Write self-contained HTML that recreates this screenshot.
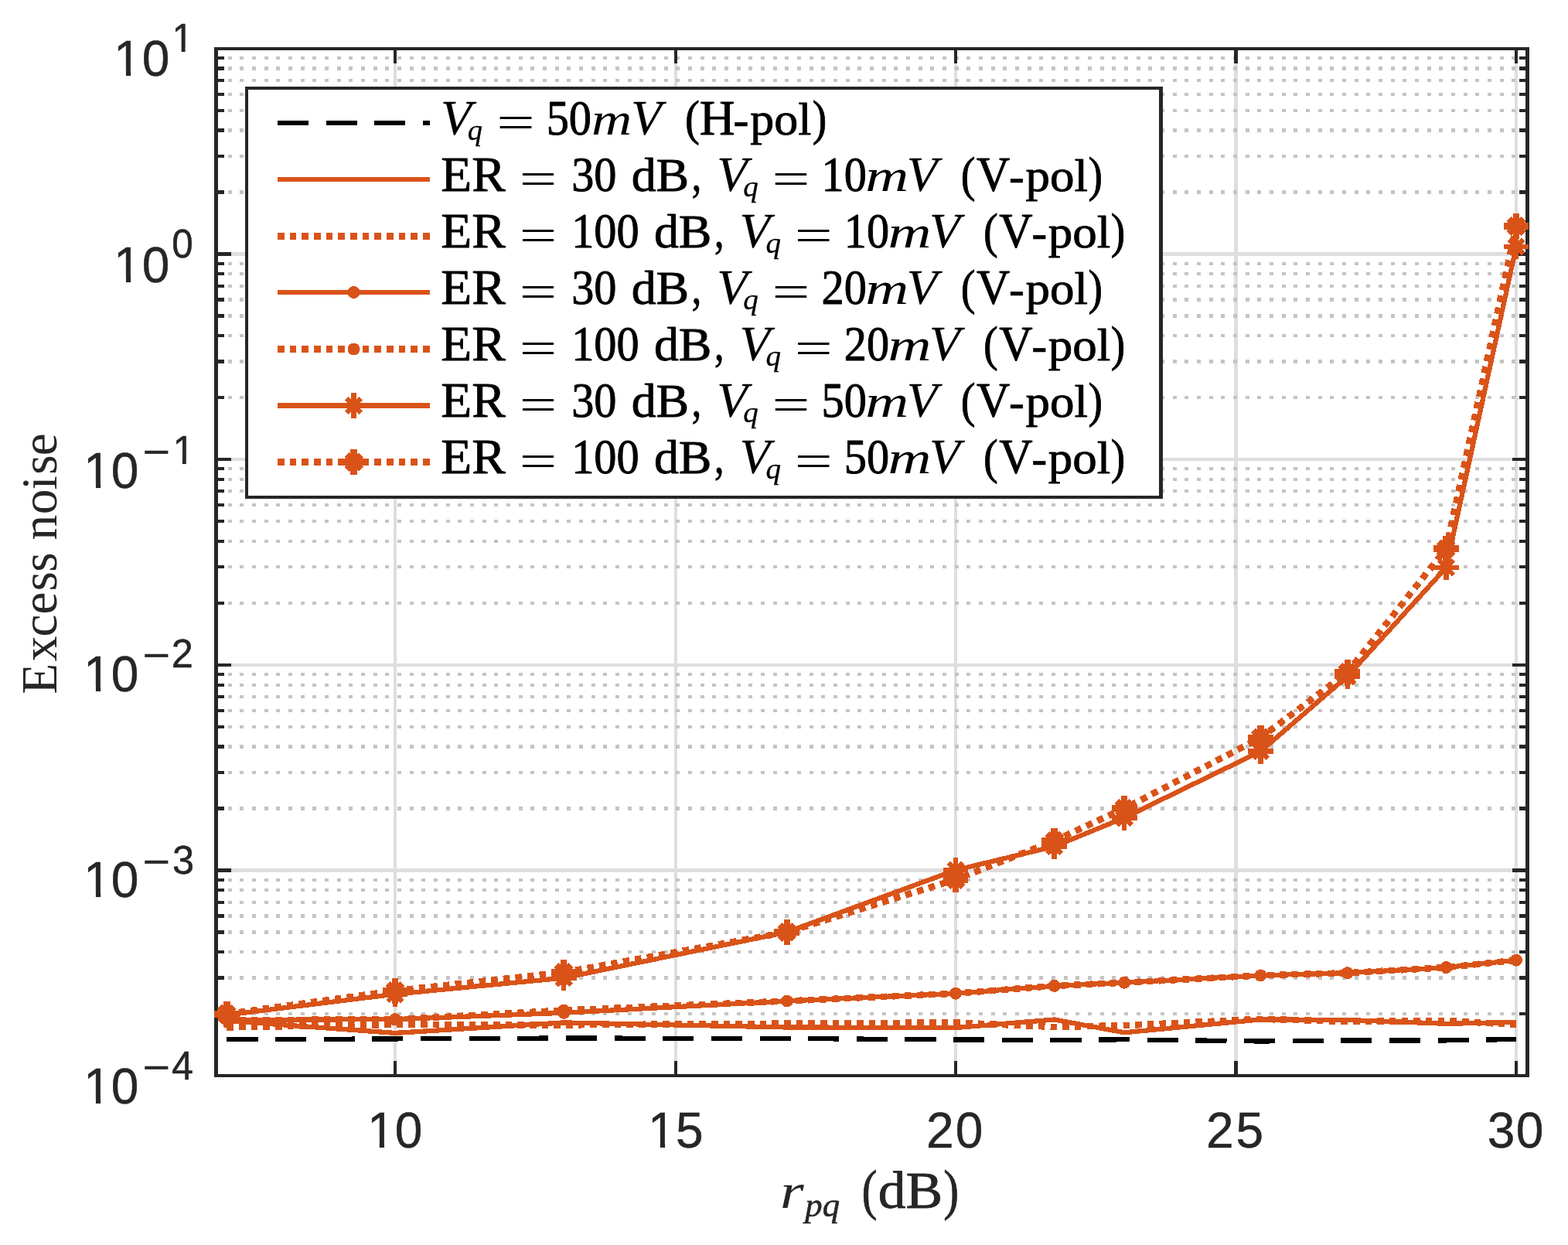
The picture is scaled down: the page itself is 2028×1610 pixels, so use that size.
<!DOCTYPE html>
<html lang="en"><head><meta charset="utf-8"><title>Excess noise vs r_pq</title>
<style>html,body{margin:0;padding:0;background:#fff;}body{width:2028px;height:1610px;overflow:hidden;}svg{display:block;}text{white-space:pre;}</style></head>
<body>
<svg width="2028" height="1610" viewBox="0 0 2028 1610"><defs><clipPath id="c1"><rect x="472.99" y="-64" width="39.59" height="57.62"/><rect x="490.84" y="-6.98" width="6.16" height="7.23"/><rect x="508.75" y="-64" width="39.59" height="89.6"/></clipPath><clipPath id="c2"><rect x="836.09" y="-64" width="39.59" height="57.62"/><rect x="853.94" y="-6.98" width="6.16" height="7.23"/><rect x="871.89" y="-64" width="39.59" height="89.6"/></clipPath><clipPath id="c3"><rect x="145.09" y="-64" width="39.59" height="57.62"/><rect x="162.94" y="-6.98" width="6.16" height="7.23"/><rect x="181.75" y="-64" width="39.59" height="89.6"/></clipPath><clipPath id="c4"><rect x="229.76" y="-51.5" width="32.64" height="46.05"/><rect x="244.47" y="-6.05" width="5.05" height="6.3"/></clipPath><clipPath id="c5"><rect x="145.09" y="-64" width="39.59" height="57.62"/><rect x="162.94" y="-6.98" width="6.16" height="7.23"/><rect x="181.75" y="-64" width="39.59" height="89.6"/></clipPath><clipPath id="c6"><rect x="106.09" y="-64" width="39.59" height="57.62"/><rect x="123.94" y="-6.98" width="6.16" height="7.23"/><rect x="141.75" y="-64" width="39.59" height="89.6"/></clipPath><clipPath id="c7"><rect x="225.95" y="-51.5" width="32.64" height="46.05"/><rect x="240.65" y="-6.05" width="5.05" height="6.3"/></clipPath><clipPath id="c8"><rect x="106.09" y="-64" width="39.59" height="57.62"/><rect x="123.94" y="-6.98" width="6.16" height="7.23"/><rect x="141.75" y="-64" width="39.59" height="89.6"/></clipPath><clipPath id="c9"><rect x="106.09" y="-64" width="39.59" height="57.62"/><rect x="123.94" y="-6.98" width="6.16" height="7.23"/><rect x="141.75" y="-64" width="39.59" height="89.6"/></clipPath><clipPath id="c10"><rect x="106.09" y="-64" width="39.59" height="57.62"/><rect x="123.94" y="-6.98" width="6.16" height="7.23"/><rect x="141.75" y="-64" width="39.59" height="89.6"/></clipPath></defs><rect x="0" y="0" width="2028" height="1610" fill="#fff"/>
<g shape-rendering="crispEdges">
<g fill="#DEDEDE">
<rect x="509" y="63" width="4" height="1328"/>
<rect x="872" y="63" width="4" height="1328"/>
<rect x="1234" y="63" width="4" height="1328"/>
<rect x="1596" y="63" width="5" height="1328"/>
<rect x="1959" y="63" width="4" height="1328"/>
<rect x="279.5" y="1123" width="1696" height="5"/>
<rect x="279.5" y="858" width="1696" height="4"/>
<rect x="279.5" y="592" width="1696" height="4"/>
<rect x="279.5" y="326" width="1696" height="5"/>
</g>
<g stroke="#C4C4C4" stroke-dasharray="4.92 10.7467" fill="none">
<path d="M279 1311H1975.5" stroke-width="4"/>
<path d="M279 1264.5H1975.5" stroke-width="5"/>
<path d="M279 1231H1975.5" stroke-width="4"/>
<path d="M279 1205.5H1975.5" stroke-width="5"/>
<path d="M279 1184.5H1975.5" stroke-width="5"/>
<path d="M279 1167H1975.5" stroke-width="4"/>
<path d="M279 1151H1975.5" stroke-width="4"/>
<path d="M279 1138H1975.5" stroke-width="4"/>
<path d="M279 1045.5H1975.5" stroke-width="5"/>
<path d="M279 999H1975.5" stroke-width="4"/>
<path d="M279 965.5H1975.5" stroke-width="5"/>
<path d="M279 940H1975.5" stroke-width="4"/>
<path d="M279 919H1975.5" stroke-width="4"/>
<path d="M279 901H1975.5" stroke-width="4"/>
<path d="M279 886H1975.5" stroke-width="4"/>
<path d="M279 872H1975.5" stroke-width="4"/>
<path d="M279 780H1975.5" stroke-width="4"/>
<path d="M279 733H1975.5" stroke-width="4"/>
<path d="M279 700H1975.5" stroke-width="4"/>
<path d="M279 674H1975.5" stroke-width="4"/>
<path d="M279 653H1975.5" stroke-width="4"/>
<path d="M279 635H1975.5" stroke-width="4"/>
<path d="M279 620H1975.5" stroke-width="4"/>
<path d="M279 606H1975.5" stroke-width="4"/>
<path d="M279 514H1975.5" stroke-width="4"/>
<path d="M279 467.5H1975.5" stroke-width="5"/>
<path d="M279 434H1975.5" stroke-width="4"/>
<path d="M279 408.5H1975.5" stroke-width="5"/>
<path d="M279 387.5H1975.5" stroke-width="5"/>
<path d="M279 370H1975.5" stroke-width="4"/>
<path d="M279 354H1975.5" stroke-width="4"/>
<path d="M279 341H1975.5" stroke-width="4"/>
<path d="M279 248.5H1975.5" stroke-width="5"/>
<path d="M279 202H1975.5" stroke-width="4"/>
<path d="M279 168.5H1975.5" stroke-width="5"/>
<path d="M279 143H1975.5" stroke-width="4"/>
<path d="M279 122H1975.5" stroke-width="4"/>
<path d="M279 104H1975.5" stroke-width="4"/>
<path d="M279 88.5H1975.5" stroke-width="5"/>
<path d="M279 75H1975.5" stroke-width="4"/>
</g>
</g>
<g shape-rendering="crispEdges" fill="#262626">
<rect x="277" y="61" width="5" height="1332"/>
<rect x="1973" y="61" width="5" height="1332"/>
<rect x="277" y="61" width="1701" height="4"/>
<rect x="277" y="1389" width="1701" height="4"/>
<rect x="509" y="1372" width="4" height="19"/>
<rect x="509" y="63" width="4" height="19"/>
<rect x="872" y="1372" width="4" height="19"/>
<rect x="872" y="63" width="4" height="19"/>
<rect x="1234" y="1372" width="4" height="19"/>
<rect x="1234" y="63" width="4" height="19"/>
<rect x="1596" y="1372" width="5" height="19"/>
<rect x="1596" y="63" width="5" height="19"/>
<rect x="1959" y="1372" width="4" height="19"/>
<rect x="1959" y="63" width="4" height="19"/>
<rect x="279" y="1123" width="20" height="5"/>
<rect x="1956" y="1123" width="20" height="5"/>
<rect x="279" y="858" width="20" height="4"/>
<rect x="1956" y="858" width="20" height="4"/>
<rect x="279" y="592" width="20" height="4"/>
<rect x="1956" y="592" width="20" height="4"/>
<rect x="279" y="326" width="20" height="5"/>
<rect x="1956" y="326" width="20" height="5"/>
<rect x="279" y="1309" width="11" height="4"/>
<rect x="1965" y="1309" width="11" height="4"/>
<rect x="279" y="1262" width="11" height="5"/>
<rect x="1965" y="1262" width="11" height="5"/>
<rect x="279" y="1229" width="11" height="4"/>
<rect x="1965" y="1229" width="11" height="4"/>
<rect x="279" y="1203" width="11" height="5"/>
<rect x="1965" y="1203" width="11" height="5"/>
<rect x="279" y="1182" width="11" height="5"/>
<rect x="1965" y="1182" width="11" height="5"/>
<rect x="279" y="1165" width="11" height="4"/>
<rect x="1965" y="1165" width="11" height="4"/>
<rect x="279" y="1149" width="11" height="4"/>
<rect x="1965" y="1149" width="11" height="4"/>
<rect x="279" y="1136" width="11" height="4"/>
<rect x="1965" y="1136" width="11" height="4"/>
<rect x="279" y="1043" width="11" height="5"/>
<rect x="1965" y="1043" width="11" height="5"/>
<rect x="279" y="997" width="11" height="4"/>
<rect x="1965" y="997" width="11" height="4"/>
<rect x="279" y="963" width="11" height="5"/>
<rect x="1965" y="963" width="11" height="5"/>
<rect x="279" y="938" width="11" height="4"/>
<rect x="1965" y="938" width="11" height="4"/>
<rect x="279" y="917" width="11" height="4"/>
<rect x="1965" y="917" width="11" height="4"/>
<rect x="279" y="899" width="11" height="4"/>
<rect x="1965" y="899" width="11" height="4"/>
<rect x="279" y="884" width="11" height="4"/>
<rect x="1965" y="884" width="11" height="4"/>
<rect x="279" y="870" width="11" height="4"/>
<rect x="1965" y="870" width="11" height="4"/>
<rect x="279" y="778" width="11" height="4"/>
<rect x="1965" y="778" width="11" height="4"/>
<rect x="279" y="731" width="11" height="4"/>
<rect x="1965" y="731" width="11" height="4"/>
<rect x="279" y="698" width="11" height="4"/>
<rect x="1965" y="698" width="11" height="4"/>
<rect x="279" y="672" width="11" height="4"/>
<rect x="1965" y="672" width="11" height="4"/>
<rect x="279" y="651" width="11" height="4"/>
<rect x="1965" y="651" width="11" height="4"/>
<rect x="279" y="633" width="11" height="4"/>
<rect x="1965" y="633" width="11" height="4"/>
<rect x="279" y="618" width="11" height="4"/>
<rect x="1965" y="618" width="11" height="4"/>
<rect x="279" y="604" width="11" height="4"/>
<rect x="1965" y="604" width="11" height="4"/>
<rect x="279" y="512" width="11" height="4"/>
<rect x="1965" y="512" width="11" height="4"/>
<rect x="279" y="465" width="11" height="5"/>
<rect x="1965" y="465" width="11" height="5"/>
<rect x="279" y="432" width="11" height="4"/>
<rect x="1965" y="432" width="11" height="4"/>
<rect x="279" y="406" width="11" height="5"/>
<rect x="1965" y="406" width="11" height="5"/>
<rect x="279" y="385" width="11" height="5"/>
<rect x="1965" y="385" width="11" height="5"/>
<rect x="279" y="368" width="11" height="4"/>
<rect x="1965" y="368" width="11" height="4"/>
<rect x="279" y="352" width="11" height="4"/>
<rect x="1965" y="352" width="11" height="4"/>
<rect x="279" y="339" width="11" height="4"/>
<rect x="1965" y="339" width="11" height="4"/>
<rect x="279" y="246" width="11" height="5"/>
<rect x="1965" y="246" width="11" height="5"/>
<rect x="279" y="200" width="11" height="4"/>
<rect x="1965" y="200" width="11" height="4"/>
<rect x="279" y="166" width="11" height="5"/>
<rect x="1965" y="166" width="11" height="5"/>
<rect x="279" y="141" width="11" height="4"/>
<rect x="1965" y="141" width="11" height="4"/>
<rect x="279" y="120" width="11" height="4"/>
<rect x="1965" y="120" width="11" height="4"/>
<rect x="279" y="102" width="11" height="4"/>
<rect x="1965" y="102" width="11" height="4"/>
<rect x="279" y="86" width="11" height="5"/>
<rect x="1965" y="86" width="11" height="5"/>
<rect x="279" y="73" width="11" height="4"/>
<rect x="1965" y="73" width="11" height="4"/>
</g>
<g shape-rendering="crispEdges" fill="none" stroke-linejoin="round">
<path d="M293.4 1344.3L511 1343.4L729.23 1342.5L1017.77 1343L1236 1344.4L1363.6 1345L1454.23 1344.3L1630.4 1346.5L1742.77 1345.4L1870.38 1345.4L1961 1344" stroke="#000" stroke-width="6.25" stroke-dasharray="40.15 22.5"/>
<g stroke="#D95319">
<path d="M293.4 1320L511 1335.9L729.23 1322.4L1017.77 1328.5L1236 1329L1363.6 1318.5L1454.23 1335.3L1630.4 1318.4L1742.77 1319L1870.38 1323.8L1961 1322" stroke-width="6.25"/>
<path d="M293.4 1328.5L511 1325L729.23 1325.4L1017.77 1323.6L1236 1322.4L1363.6 1328L1454.23 1326.1L1630.4 1317.8L1742.77 1321L1870.38 1320L1961 1325" stroke-width="8.5" stroke-dasharray="8.5 7.167"/>
<path d="M293.4 1319L511 1318.1L729.23 1309.8L1017.77 1294.5L1236 1284.7L1363.6 1274.9L1454.23 1270.7L1630.4 1261.4L1742.77 1258.2L1870.38 1251.1L1961 1241.7" stroke-width="6.25"/>
<circle cx="293.4" cy="1319" r="8" fill="#D95319" stroke="none"/>
<circle cx="511" cy="1318.1" r="8" fill="#D95319" stroke="none"/>
<circle cx="729.23" cy="1309.8" r="8" fill="#D95319" stroke="none"/>
<circle cx="1017.77" cy="1294.5" r="8" fill="#D95319" stroke="none"/>
<circle cx="1236" cy="1284.7" r="8" fill="#D95319" stroke="none"/>
<circle cx="1363.6" cy="1274.9" r="8" fill="#D95319" stroke="none"/>
<circle cx="1454.23" cy="1270.7" r="8" fill="#D95319" stroke="none"/>
<circle cx="1630.4" cy="1261.4" r="8" fill="#D95319" stroke="none"/>
<circle cx="1742.77" cy="1258.2" r="8" fill="#D95319" stroke="none"/>
<circle cx="1870.38" cy="1251.1" r="8" fill="#D95319" stroke="none"/>
<circle cx="1961" cy="1241.7" r="8" fill="#D95319" stroke="none"/>
<path d="M293.4 1319L511 1318.5L729.23 1306.5L1017.77 1294.5L1236 1284.7L1363.6 1274.9L1454.23 1270.7L1630.4 1261.4L1742.77 1258.2L1870.38 1251.1L1961 1241.7" stroke-width="8.5" stroke-dasharray="8.5 7.167"/>
<circle cx="293.4" cy="1319" r="8" fill="#D95319" stroke="none"/>
<circle cx="511" cy="1318.5" r="8" fill="#D95319" stroke="none"/>
<circle cx="729.23" cy="1306.5" r="8" fill="#D95319" stroke="none"/>
<circle cx="1017.77" cy="1294.5" r="8" fill="#D95319" stroke="none"/>
<circle cx="1236" cy="1284.7" r="8" fill="#D95319" stroke="none"/>
<circle cx="1363.6" cy="1274.9" r="8" fill="#D95319" stroke="none"/>
<circle cx="1454.23" cy="1270.7" r="8" fill="#D95319" stroke="none"/>
<circle cx="1630.4" cy="1261.4" r="8" fill="#D95319" stroke="none"/>
<circle cx="1742.77" cy="1258.2" r="8" fill="#D95319" stroke="none"/>
<circle cx="1870.38" cy="1251.1" r="8" fill="#D95319" stroke="none"/>
<circle cx="1961" cy="1241.7" r="8" fill="#D95319" stroke="none"/>
<path d="M293.4 1312.5L511 1285.6L729.23 1264.6L1017.77 1205.4L1236 1125.2L1363.6 1094.6L1454.23 1057.5L1630.4 971.6L1742.77 874.5L1870.38 733.9L1961 318.9" stroke-width="6.25"/>
<path d="M277.1 1312.5H309.7M293.4 1296.2V1328.8M284 1303.1L302.8 1321.9M284 1321.9L302.8 1303.1" stroke-width="6.25"/>
<path d="M494.7 1285.6H527.3M511 1269.3V1301.9M501.6 1276.2L520.4 1295M501.6 1295L520.4 1276.2" stroke-width="6.25"/>
<path d="M712.93 1264.6H745.52M729.23 1248.3V1280.9M719.83 1255.2L738.62 1274M719.83 1274L738.62 1255.2" stroke-width="6.25"/>
<path d="M1001.47 1205.4H1034.07M1017.77 1189.1V1221.7M1008.37 1196L1027.17 1214.8M1008.37 1214.8L1027.17 1196" stroke-width="6.25"/>
<path d="M1219.7 1125.2H1252.3M1236 1108.9V1141.5M1226.6 1115.8L1245.4 1134.6M1226.6 1134.6L1245.4 1115.8" stroke-width="6.25"/>
<path d="M1347.3 1094.6H1379.9M1363.6 1078.3V1110.9M1354.2 1085.2L1373 1104M1354.2 1104L1373 1085.2" stroke-width="6.25"/>
<path d="M1437.93 1057.5H1470.53M1454.23 1041.2V1073.8M1444.83 1048.1L1463.63 1066.9M1444.83 1066.9L1463.63 1048.1" stroke-width="6.25"/>
<path d="M1614.1 971.6H1646.7M1630.4 955.3V987.9M1621 962.2L1639.8 981M1621 981L1639.8 962.2" stroke-width="6.25"/>
<path d="M1726.47 874.5H1759.07M1742.77 858.2V890.8M1733.37 865.1L1752.17 883.9M1733.37 883.9L1752.17 865.1" stroke-width="6.25"/>
<path d="M1854.08 733.9H1886.67M1870.38 717.6V750.2M1860.97 724.5L1879.78 743.3M1860.97 743.3L1879.78 724.5" stroke-width="6.25"/>
<path d="M1944.7 318.9H1977.3M1961 302.6V335.2M1951.6 309.5L1970.4 328.3M1951.6 328.3L1970.4 309.5" stroke-width="6.25"/>
<path d="M293.4 1311.3L511 1281.2L729.23 1257.4L1017.77 1205.4L1236 1137.4L1363.6 1087.4L1454.23 1045.4L1630.4 954.2L1742.77 869.4L1870.38 709.6L1961 292.6" stroke-width="8.5" stroke-dasharray="8.5 7.167"/>
<path d="M277.1 1311.3H309.7M293.4 1295V1327.6M284 1301.9L302.8 1320.7M284 1320.7L302.8 1301.9" stroke-width="8.5"/>
<path d="M494.7 1281.2H527.3M511 1264.9V1297.5M501.6 1271.8L520.4 1290.6M501.6 1290.6L520.4 1271.8" stroke-width="8.5"/>
<path d="M712.93 1257.4H745.52M729.23 1241.1V1273.7M719.83 1248L738.62 1266.8M719.83 1266.8L738.62 1248" stroke-width="8.5"/>
<path d="M1001.47 1205.4H1034.07M1017.77 1189.1V1221.7M1008.37 1196L1027.17 1214.8M1008.37 1214.8L1027.17 1196" stroke-width="8.5"/>
<path d="M1219.7 1137.4H1252.3M1236 1121.1V1153.7M1226.6 1128L1245.4 1146.8M1226.6 1146.8L1245.4 1128" stroke-width="8.5"/>
<path d="M1347.3 1087.4H1379.9M1363.6 1071.1V1103.7M1354.2 1078L1373 1096.8M1354.2 1096.8L1373 1078" stroke-width="8.5"/>
<path d="M1437.93 1045.4H1470.53M1454.23 1029.1V1061.7M1444.83 1036L1463.63 1054.8M1444.83 1054.8L1463.63 1036" stroke-width="8.5"/>
<path d="M1614.1 954.2H1646.7M1630.4 937.9V970.5M1621 944.8L1639.8 963.6M1621 963.6L1639.8 944.8" stroke-width="8.5"/>
<path d="M1726.47 869.4H1759.07M1742.77 853.1V885.7M1733.37 860L1752.17 878.8M1733.37 878.8L1752.17 860" stroke-width="8.5"/>
<path d="M1854.08 709.6H1886.67M1870.38 693.3V725.9M1860.97 700.2L1879.78 719M1860.97 719L1879.78 700.2" stroke-width="8.5"/>
<path d="M1944.7 292.6H1977.3M1961 276.3V308.9M1951.6 283.2L1970.4 302M1951.6 302L1970.4 283.2" stroke-width="8.5"/>
</g></g>
<g shape-rendering="crispEdges">
<rect x="319" y="114" width="1182.5" height="529" fill="#fff"/>
<g fill="#262626">
<rect x="317" y="112" width="4" height="533"/>
<rect x="1499" y="112" width="5" height="533"/>
<rect x="317" y="112" width="1187" height="4"/>
<rect x="317" y="641" width="1187" height="4"/>
</g>
<g fill="none">
<path d="M359 159H556" stroke="#000" stroke-width="6.25" stroke-dasharray="40.15 22.5"/>
<g stroke="#D95319">
<path d="M359 232H556" stroke-width="6.25"/>
<path d="M359 378H556" stroke-width="6.25"/>
<path d="M359 524.5H556" stroke-width="6.25"/>
<path d="M359 305.5H556" stroke-width="8.5" stroke-dasharray="8.5 7.167"/>
<path d="M359 451.5H556" stroke-width="8.5" stroke-dasharray="8.5 7.167"/>
<path d="M359 597.5H556" stroke-width="8.5" stroke-dasharray="8.5 7.167"/>
<circle cx="457.6" cy="378" r="8" fill="#D95319" stroke="none"/>
<circle cx="457.6" cy="451.5" r="8" fill="#D95319" stroke="none"/>
<path d="M441.3 524.5H473.9M457.6 508.2V540.8M448.2 515.1L467 533.9M448.2 533.9L467 515.1" stroke-width="6.25"/>
<path d="M441.3 597.5H473.9M457.6 581.2V613.8M448.2 588.1L467 606.9M448.2 606.9L467 588.1" stroke-width="8.5"/>
</g></g></g>
<g font-family="'Liberation Serif', serif" fill="#000" stroke="#000" stroke-linejoin="round">
<g><text transform="matrix(1.0375 0 0 1.0000 570.03 174)" font-size="63" font-style="italic" stroke-width="0.3">V</text><text transform="matrix(0.9959 0 0 1.0000 604.68 181)" font-size="38.5" font-style="italic" stroke-width="0.3">q</text><text transform="matrix(1.4421 0 0 0.9775 642.13 178)" font-size="60.8" stroke="none">=</text><text transform="matrix(1.0000 0 0 1.0710 706.7 174)" font-size="58.33" stroke-width="0.9">50</text><text transform="matrix(1.2161 0 0 1.0000 765.09 174)" font-size="59.5" font-style="italic" stroke="none">m</text><text transform="matrix(1.0254 0 0 1.0000 816.37 174)" font-size="63" font-style="italic" stroke-width="0.3">V</text><text transform="matrix(0.9023 0 0 1.0190 885.95 174)" font-size="63" stroke-width="0.9">(</text><text transform="matrix(1.0087 0 0 1.0000 904.82 174)" font-size="63" stroke-width="0.9">H</text><text transform="matrix(0.9960 0 0 1.0000 948.02 176)" font-size="63" stroke-width="0.3">-</text><text transform="matrix(1.0395 0 0 1.0000 970.35 174)" font-size="59.5" stroke-width="0.9">pol</text><text transform="matrix(0.8838 0 0 1.0190 1050.66 174)" font-size="63" stroke-width="0.9">)</text></g>
<g><text transform="matrix(1.0369 0 0 1.0000 570.37 247)" font-size="63" stroke-width="0.9">ER</text><text transform="matrix(1.4138 0 0 0.9775 671.82 251)" font-size="60.8" stroke="none">=</text><text transform="matrix(1.0000 0 0 1.0710 739.2 247)" font-size="58.33" stroke-width="0.9">30</text><text transform="matrix(1.0384 0 0 1.0000 816.64 247)" font-size="61.5" stroke-width="0.9">dB</text><text transform="matrix(0.7887 0 0 1.0000 894.66 247)" font-size="63" stroke-width="0.9">,</text><text transform="matrix(1.0254 0 0 1.0000 927.17 247)" font-size="63" font-style="italic" stroke-width="0.3">V</text><text transform="matrix(1.0135 0 0 1.0000 961.25 254)" font-size="38.5" font-style="italic" stroke-width="0.3">q</text><text transform="matrix(1.4280 0 0 0.9775 998.48 251)" font-size="60.8" stroke="none">=</text><text transform="matrix(1.0000 0 0 1.0710 1062.6 247)" font-size="58.33" stroke-width="0.9">10</text><text transform="matrix(1.3048 0 0 1.0000 1119.29 247)" font-size="59.5" font-style="italic" stroke="none">m</text><text transform="matrix(1.0327 0 0 1.0000 1172.65 247)" font-size="63" font-style="italic" stroke-width="0.3">V</text><text transform="matrix(0.8961 0 0 1.0190 1242.77 247)" font-size="63" stroke-width="0.9">(</text><text transform="matrix(0.9528 0 0 1.0000 1262.88 247)" font-size="63" stroke-width="0.9">V</text><text transform="matrix(0.9716 0 0 1.0000 1304.78 249)" font-size="63" stroke-width="0.3">-</text><text transform="matrix(1.0585 0 0 1.0000 1326.44 247)" font-size="59.5" stroke-width="0.9">pol</text><text transform="matrix(0.8838 0 0 1.0190 1407.56 247)" font-size="63" stroke-width="0.9">)</text></g>
<g><text transform="matrix(1.0369 0 0 1.0000 570.37 320)" font-size="63" stroke-width="0.9">ER</text><text transform="matrix(1.4138 0 0 0.9775 671.82 324)" font-size="60.8" stroke="none">=</text><text transform="matrix(1.0000 0 0 1.0710 739.2 320)" font-size="58.33" stroke-width="0.9">100</text><text transform="matrix(1.0384 0 0 1.0000 845.89 320)" font-size="61.5" stroke-width="0.9">dB</text><text transform="matrix(0.7887 0 0 1.0000 923.91 320)" font-size="63" stroke-width="0.9">,</text><text transform="matrix(1.0254 0 0 1.0000 956.42 320)" font-size="63" font-style="italic" stroke-width="0.3">V</text><text transform="matrix(1.0135 0 0 1.0000 990.5 327)" font-size="38.5" font-style="italic" stroke-width="0.3">q</text><text transform="matrix(1.4280 0 0 0.9775 1027.73 324)" font-size="60.8" stroke="none">=</text><text transform="matrix(1.0000 0 0 1.0710 1091.85 320)" font-size="58.33" stroke-width="0.9">10</text><text transform="matrix(1.3048 0 0 1.0000 1148.54 320)" font-size="59.5" font-style="italic" stroke="none">m</text><text transform="matrix(1.0327 0 0 1.0000 1201.9 320)" font-size="63" font-style="italic" stroke-width="0.3">V</text><text transform="matrix(0.8961 0 0 1.0190 1272.02 320)" font-size="63" stroke-width="0.9">(</text><text transform="matrix(0.9528 0 0 1.0000 1292.13 320)" font-size="63" stroke-width="0.9">V</text><text transform="matrix(0.9716 0 0 1.0000 1334.03 322)" font-size="63" stroke-width="0.3">-</text><text transform="matrix(1.0585 0 0 1.0000 1355.69 320)" font-size="59.5" stroke-width="0.9">pol</text><text transform="matrix(0.8838 0 0 1.0190 1436.81 320)" font-size="63" stroke-width="0.9">)</text></g>
<g><text transform="matrix(1.0369 0 0 1.0000 570.37 393)" font-size="63" stroke-width="0.9">ER</text><text transform="matrix(1.4138 0 0 0.9775 671.82 397)" font-size="60.8" stroke="none">=</text><text transform="matrix(1.0000 0 0 1.0710 739.2 393)" font-size="58.33" stroke-width="0.9">30</text><text transform="matrix(1.0384 0 0 1.0000 816.64 393)" font-size="61.5" stroke-width="0.9">dB</text><text transform="matrix(0.7887 0 0 1.0000 894.66 393)" font-size="63" stroke-width="0.9">,</text><text transform="matrix(1.0254 0 0 1.0000 927.17 393)" font-size="63" font-style="italic" stroke-width="0.3">V</text><text transform="matrix(1.0135 0 0 1.0000 961.25 400)" font-size="38.5" font-style="italic" stroke-width="0.3">q</text><text transform="matrix(1.4280 0 0 0.9775 998.48 397)" font-size="60.8" stroke="none">=</text><text transform="matrix(1.0000 0 0 1.0710 1062.6 393)" font-size="58.33" stroke-width="0.9">20</text><text transform="matrix(1.3048 0 0 1.0000 1119.29 393)" font-size="59.5" font-style="italic" stroke="none">m</text><text transform="matrix(1.0327 0 0 1.0000 1172.65 393)" font-size="63" font-style="italic" stroke-width="0.3">V</text><text transform="matrix(0.8961 0 0 1.0190 1242.77 393)" font-size="63" stroke-width="0.9">(</text><text transform="matrix(0.9528 0 0 1.0000 1262.88 393)" font-size="63" stroke-width="0.9">V</text><text transform="matrix(0.9716 0 0 1.0000 1304.78 395)" font-size="63" stroke-width="0.3">-</text><text transform="matrix(1.0585 0 0 1.0000 1326.44 393)" font-size="59.5" stroke-width="0.9">pol</text><text transform="matrix(0.8838 0 0 1.0190 1407.56 393)" font-size="63" stroke-width="0.9">)</text></g>
<g><text transform="matrix(1.0369 0 0 1.0000 570.37 466)" font-size="63" stroke-width="0.9">ER</text><text transform="matrix(1.4138 0 0 0.9775 671.82 470)" font-size="60.8" stroke="none">=</text><text transform="matrix(1.0000 0 0 1.0710 739.2 466)" font-size="58.33" stroke-width="0.9">100</text><text transform="matrix(1.0384 0 0 1.0000 845.89 466)" font-size="61.5" stroke-width="0.9">dB</text><text transform="matrix(0.7887 0 0 1.0000 923.91 466)" font-size="63" stroke-width="0.9">,</text><text transform="matrix(1.0254 0 0 1.0000 956.42 466)" font-size="63" font-style="italic" stroke-width="0.3">V</text><text transform="matrix(1.0135 0 0 1.0000 990.5 473)" font-size="38.5" font-style="italic" stroke-width="0.3">q</text><text transform="matrix(1.4280 0 0 0.9775 1027.73 470)" font-size="60.8" stroke="none">=</text><text transform="matrix(1.0000 0 0 1.0710 1091.85 466)" font-size="58.33" stroke-width="0.9">20</text><text transform="matrix(1.3048 0 0 1.0000 1148.54 466)" font-size="59.5" font-style="italic" stroke="none">m</text><text transform="matrix(1.0327 0 0 1.0000 1201.9 466)" font-size="63" font-style="italic" stroke-width="0.3">V</text><text transform="matrix(0.8961 0 0 1.0190 1272.02 466)" font-size="63" stroke-width="0.9">(</text><text transform="matrix(0.9528 0 0 1.0000 1292.13 466)" font-size="63" stroke-width="0.9">V</text><text transform="matrix(0.9716 0 0 1.0000 1334.03 468)" font-size="63" stroke-width="0.3">-</text><text transform="matrix(1.0585 0 0 1.0000 1355.69 466)" font-size="59.5" stroke-width="0.9">pol</text><text transform="matrix(0.8838 0 0 1.0190 1436.81 466)" font-size="63" stroke-width="0.9">)</text></g>
<g><text transform="matrix(1.0369 0 0 1.0000 570.37 539)" font-size="63" stroke-width="0.9">ER</text><text transform="matrix(1.4138 0 0 0.9775 671.82 543)" font-size="60.8" stroke="none">=</text><text transform="matrix(1.0000 0 0 1.0710 739.2 539)" font-size="58.33" stroke-width="0.9">30</text><text transform="matrix(1.0384 0 0 1.0000 816.64 539)" font-size="61.5" stroke-width="0.9">dB</text><text transform="matrix(0.7887 0 0 1.0000 894.66 539)" font-size="63" stroke-width="0.9">,</text><text transform="matrix(1.0254 0 0 1.0000 927.17 539)" font-size="63" font-style="italic" stroke-width="0.3">V</text><text transform="matrix(1.0135 0 0 1.0000 961.25 546)" font-size="38.5" font-style="italic" stroke-width="0.3">q</text><text transform="matrix(1.4280 0 0 0.9775 998.48 543)" font-size="60.8" stroke="none">=</text><text transform="matrix(1.0000 0 0 1.0710 1062.6 539)" font-size="58.33" stroke-width="0.9">50</text><text transform="matrix(1.3048 0 0 1.0000 1119.29 539)" font-size="59.5" font-style="italic" stroke="none">m</text><text transform="matrix(1.0327 0 0 1.0000 1172.65 539)" font-size="63" font-style="italic" stroke-width="0.3">V</text><text transform="matrix(0.8961 0 0 1.0190 1242.77 539)" font-size="63" stroke-width="0.9">(</text><text transform="matrix(0.9528 0 0 1.0000 1262.88 539)" font-size="63" stroke-width="0.9">V</text><text transform="matrix(0.9716 0 0 1.0000 1304.78 541)" font-size="63" stroke-width="0.3">-</text><text transform="matrix(1.0585 0 0 1.0000 1326.44 539)" font-size="59.5" stroke-width="0.9">pol</text><text transform="matrix(0.8838 0 0 1.0190 1407.56 539)" font-size="63" stroke-width="0.9">)</text></g>
<g><text transform="matrix(1.0369 0 0 1.0000 570.37 612)" font-size="63" stroke-width="0.9">ER</text><text transform="matrix(1.4138 0 0 0.9775 671.82 616)" font-size="60.8" stroke="none">=</text><text transform="matrix(1.0000 0 0 1.0710 739.2 612)" font-size="58.33" stroke-width="0.9">100</text><text transform="matrix(1.0384 0 0 1.0000 845.89 612)" font-size="61.5" stroke-width="0.9">dB</text><text transform="matrix(0.7887 0 0 1.0000 923.91 612)" font-size="63" stroke-width="0.9">,</text><text transform="matrix(1.0254 0 0 1.0000 956.42 612)" font-size="63" font-style="italic" stroke-width="0.3">V</text><text transform="matrix(1.0135 0 0 1.0000 990.5 619)" font-size="38.5" font-style="italic" stroke-width="0.3">q</text><text transform="matrix(1.4280 0 0 0.9775 1027.73 616)" font-size="60.8" stroke="none">=</text><text transform="matrix(1.0000 0 0 1.0710 1091.85 612)" font-size="58.33" stroke-width="0.9">50</text><text transform="matrix(1.3048 0 0 1.0000 1148.54 612)" font-size="59.5" font-style="italic" stroke="none">m</text><text transform="matrix(1.0327 0 0 1.0000 1201.9 612)" font-size="63" font-style="italic" stroke-width="0.3">V</text><text transform="matrix(0.8961 0 0 1.0190 1272.02 612)" font-size="63" stroke-width="0.9">(</text><text transform="matrix(0.9528 0 0 1.0000 1292.13 612)" font-size="63" stroke-width="0.9">V</text><text transform="matrix(0.9716 0 0 1.0000 1334.03 614)" font-size="63" stroke-width="0.3">-</text><text transform="matrix(1.0585 0 0 1.0000 1355.69 612)" font-size="59.5" stroke-width="0.9">pol</text><text transform="matrix(0.8838 0 0 1.0190 1436.81 612)" font-size="63" stroke-width="0.9">)</text></g>
</g>
<g font-family="'Liberation Sans', sans-serif" fill="#262626" stroke="#262626" stroke-linejoin="round">
<text transform="matrix(1.0000 0 0 1.0120 0 1483.9)" x="474.99 510.75" y="0" font-size="64" stroke-width="0.5" clip-path="url(#c1)">10</text>
<text transform="matrix(1.0000 0 0 1.0120 0 1483.9)" x="838.09 873.89" y="0" font-size="64" stroke-width="0.5" clip-path="url(#c2)">15</text>
<text transform="matrix(1.0000 0 0 1.0120 0 1483.9)" x="1198.03 1235.75" y="0" font-size="64" stroke-width="0.5">20</text>
<text transform="matrix(1.0000 0 0 1.0120 0 1483.9)" x="1560.03 1598.59" y="0" font-size="64" stroke-width="0.5">25</text>
<text transform="matrix(1.0000 0 0 1.0120 0 1483.9)" x="1923.81 1960.65" y="0" font-size="64" stroke-width="0.5">30</text>
<g><text transform="matrix(1.0000 0 0 1.0120 0 97.8)" x="147.09 183.75" y="0" font-size="64" stroke-width="0.5" clip-path="url(#c3)">10</text><text transform="matrix(0.9600 0 0 1.0120 0 66.9)" x="231.76" y="0" font-size="51.5" stroke-width="0.5" clip-path="url(#c4)">1</text></g>
<g><text transform="matrix(1.0000 0 0 1.0120 0 365)" x="147.09 183.75" y="0" font-size="64" stroke-width="0.5" clip-path="url(#c5)">10</text><text transform="matrix(0.9600 0 0 1.0120 0 333.4)" x="231.58" y="0" font-size="51.5" stroke-width="0.5">0</text></g>
<g><text transform="matrix(1.0000 0 0 1.0120 0 631)" x="108.09 143.75" y="0" font-size="64" stroke-width="0.5" clip-path="url(#c6)">10</text><text transform="matrix(1.1830 0 0 1.0000 184.2 602.1)" font-size="51.5" stroke-width="0.4">−</text><text transform="matrix(0.9800 0 0 1.0120 0 600)" x="227.95" y="0" font-size="51.5" stroke-width="0.5" clip-path="url(#c7)">1</text></g>
<g><text transform="matrix(1.0000 0 0 1.0120 0 894.05)" x="108.09 143.75" y="0" font-size="64" stroke-width="0.5" clip-path="url(#c8)">10</text><text transform="matrix(1.1830 0 0 1.0000 184.2 865)" font-size="51.5" stroke-width="0.4">−</text><text transform="matrix(0.9800 0 0 1.0120 0 862.9)" x="226.24" y="0" font-size="51.5" stroke-width="0.5">2</text></g>
<g><text transform="matrix(1.0000 0 0 1.0120 0 1160.05)" x="108.09 143.75" y="0" font-size="64" stroke-width="0.5" clip-path="url(#c9)">10</text><text transform="matrix(1.1830 0 0 1.0000 184.2 1131.7)" font-size="51.5" stroke-width="0.4">−</text><text transform="matrix(0.9800 0 0 1.0120 0 1129.6)" x="227.58" y="0" font-size="51.5" stroke-width="0.5">3</text></g>
<g><text transform="matrix(1.0000 0 0 1.0120 0 1427)" x="108.09 143.75" y="0" font-size="64" stroke-width="0.5" clip-path="url(#c10)">10</text><text transform="matrix(1.1830 0 0 1.0000 184.2 1398)" font-size="51.5" stroke-width="0.4">−</text><text transform="matrix(0.9800 0 0 1.0120 0 1395.9)" x="226.52" y="0" font-size="51.5" stroke-width="0.5">4</text></g>
</g>
<g font-family="'Liberation Serif', serif" fill="#262626" stroke="#262626" stroke-linejoin="round">
<g><text transform="matrix(1.2311 0 0 1.0000 1009.01 1562)" font-size="64" font-style="italic" stroke="none">r</text><text transform="matrix(0.9939 0 0 1.0000 1041.32 1572.6)" font-size="45" font-style="italic" stroke-width="0.6">pq</text><text transform="matrix(0.8500 0 0 1.0250 1114.55 1562.8)" font-size="71" stroke-width="0.8">(</text><text transform="matrix(1.0582 0 0 1.0000 1135.82 1562)" font-size="67.6" stroke-width="0.8">dB</text><text transform="matrix(0.8445 0 0 1.0250 1220.37 1562.8)" font-size="71" stroke-width="0.8">)</text></g>
<text transform="translate(72.9 895.9) rotate(-90)" x="-1.88 40.73 72.51 101.35 131.32 156.12 181.56 197.4 230.71 262.43 282.22 306.75" y="0" font-size="65.4" stroke="none">Excess noise</text>
</g>
</svg>
</body></html>
